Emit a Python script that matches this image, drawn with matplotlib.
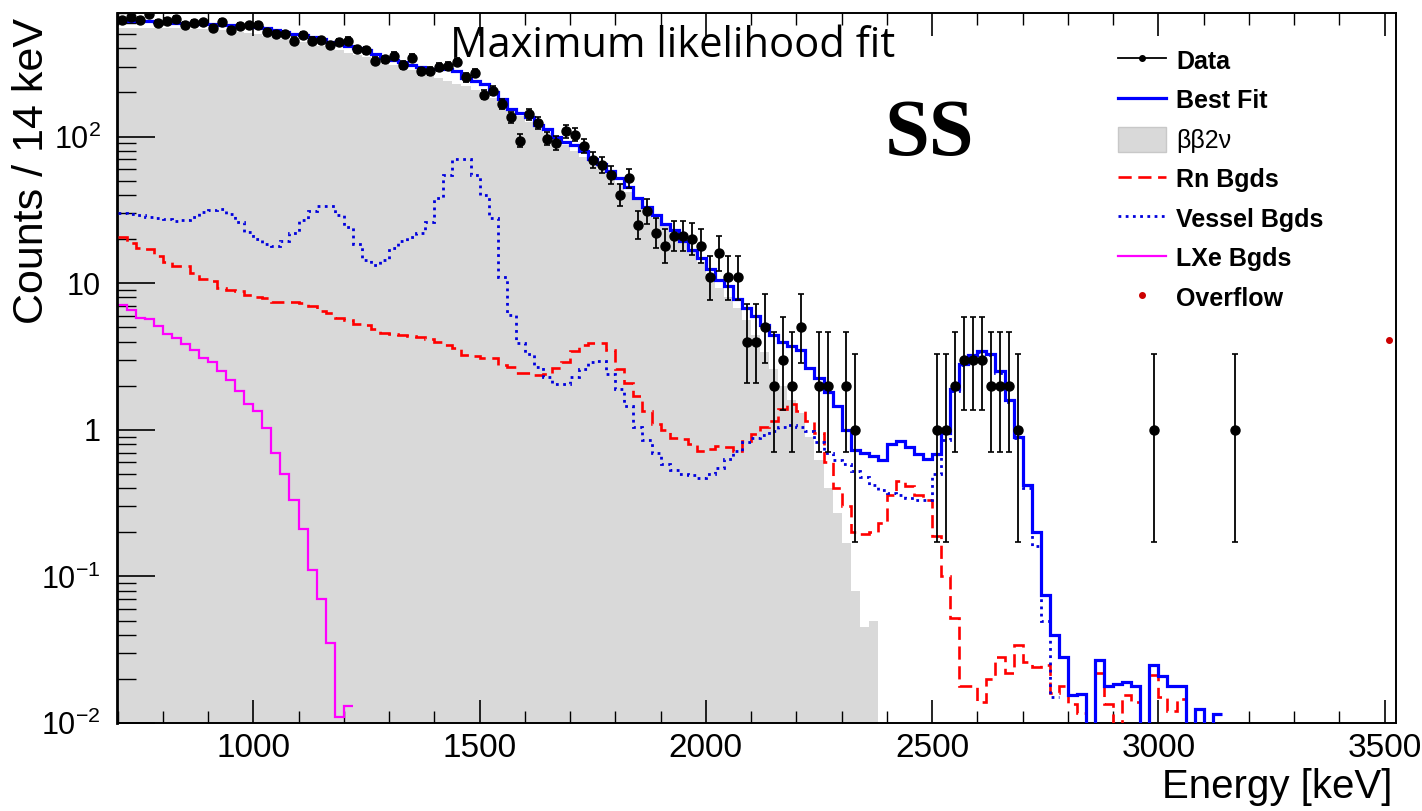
import numpy as np
import matplotlib
matplotlib.use("Agg")
import matplotlib.pyplot as plt
from matplotlib import ticker
from matplotlib.lines import Line2D
from matplotlib.patches import Patch

plt.rcParams['font.family'] = ['Liberation Sans', 'DejaVu Sans']
plt.rcParams['mathtext.fontset'] = 'custom'
plt.rcParams['mathtext.rm'] = 'Liberation Sans'
plt.rcParams['mathtext.default'] = 'regular'

# 20 keV bins starting at 700 keV
bin_edges = np.arange(700, 3540, 20)

# data counts per bin (bins 0..123)
data_counts = [
    620, 652, 629, 690, 597, 619, 636, 579, 597, 603,
    549, 609, 537, 566, 573, 579, 515, 502, 502, 452,
    495, 452, 459, 422, 440, 452, 397, 387, 330, 337,
    356, 308, 346, 278, 281, 299, 304, 325, 253, 273,
    193, 205, 166, 135, 94, 142, 123, 97, 90, 109,
    103, 86, 69, 64, 55, 40, 52, 25, 31, 22,
    18, 21, 21, 20, 18, 11, 16, 11, 11, 4,
    4, 5, 2, 3, 2, 5, 0, 2, 2, 0,
    2, 1, 0, 0, 0, 0, 0, 0, 0, 0,
    1, 1, 2, 3, 3, 3, 2, 2, 2, 1,
    0, 0, 0, 0, 0, 0, 0, 0, 0, 0,
    0, 0, 0, 0, 1, 0, 0, 0, 0, 0,
    0, 0, 0, 1]

best_fit = [
    615, 615, 612, 610, 607, 604, 600, 597, 594, 590,
    585, 580, 575, 570, 566, 560, 548, 535, 520, 502,
    490, 475, 460, 443, 430, 418, 405, 390, 365, 345,
    335, 325, 310, 298, 290, 287, 287, 280, 250, 238,
    228, 200, 180, 155, 145, 136, 120, 112, 99, 92,
    88, 80, 70, 65, 58, 52, 45, 38, 33, 29,
    25.5, 23, 19.5, 16.8, 14.8, 12.5, 10.5, 9.5, 7.8, 6.8,
    6.0, 5.2, 4.4, 4.0, 3.7, 3.5, 2.65, 2.26, 1.8, 1.45,
    1.0, 0.73, 0.70, 0.66, 0.62, 0.80, 0.84, 0.76, 0.68, 0.63,
    0.68, 0.95, 1.9, 2.8, 3.25, 3.45, 3.3, 2.5, 1.6, 0.9,
    0.42, 0.2, 0.075, 0.04, 0.028, 0.0155, 0.0157, 0, 0.027, 0.018,
    0.0185, 0.019, 0.018, 0, 0.025, 0.021, 0.018, 0.018, 0, 0.0125,
    0, 0.0116]

bb2nu = [
    548, 550, 552, 552, 552, 550, 548, 546, 544, 540,
    536, 530, 524, 518, 510, 500, 488, 475, 462, 450,
    440, 426, 414, 400, 388, 372, 360, 348, 335, 322,
    310, 298, 285, 272, 262, 250, 240, 230, 220, 208,
    196, 182, 166, 152, 138, 126, 116, 106, 96, 88,
    80, 73, 66, 60, 54, 48, 42, 37, 32, 28,
    24.5, 21.5, 19, 16.5, 14, 11.5, 9.3, 8, 6.8, 5.6,
    4.4, 3.4, 2.6, 2.0, 1.6, 1.3, 0.9, 0.62, 0.4, 0.27,
    0.17, 0.08, 0.045, 0.05]

rn_bgds = [
    20.5, 18.9, 17.4, 17.0, 15.4, 14.0, 13.2, 13.0, 11.8, 10.6,
    10.4, 9.3, 9.0, 8.9, 8.3, 8.0, 7.9, 7.5, 7.5, 7.4,
    7.35, 7.0, 6.45, 6.3, 5.75, 5.6, 5.3, 5.2, 4.9, 4.6,
    4.5, 4.4, 4.36, 4.3, 4.13, 4.0, 3.8, 3.6, 3.25, 3.2,
    3.1, 3.1, 2.75, 2.7, 2.45, 2.45, 2.38, 2.4, 2.65, 2.9,
    3.45, 3.8, 3.9, 3.9, 3.5, 2.6, 2.1, 1.7, 1.35, 1.1,
    1.0, 0.88, 0.86, 0.8, 0.72, 0.74, 0.78, 0.76, 0.72, 0.84,
    0.93, 1.05, 1.15, 1.38, 1.49, 1.35, 1.15, 0.95, 0.6, 0.4,
    0.3, 0.2, 0.195, 0.2, 0.23, 0.36, 0.45, 0.415, 0.36, 0.33,
    0.19, 0.1, 0.052, 0.018, 0.018, 0.014, 0.02, 0.028, 0.022, 0.034,
    0.026, 0.024, 0.025, 0.016, 0.018, 0.0135, 0.0117, 0, 0.022, 0.0135,
    0, 0.0155, 0.014, 0, 0.0214, 0.015, 0.012, 0.0145]

vessel_bgds = [
    30, 29.5, 29, 28.5, 28, 27.5, 26.5, 27, 28.5, 30.5,
    31.5, 32, 29.5, 26, 22.5, 20, 18.5, 18, 19.5, 22,
    27, 31, 33.5, 33.5, 29, 24, 18.5, 14.5, 13.4, 14.5,
    17.4, 19.5, 20.5, 22, 26, 38, 55, 70, 70, 55,
    40, 28, 11, 6.1, 3.9, 3.3, 2.7, 2.3, 2.05, 2.05,
    2.3, 2.6, 2.9, 2.95, 2.4, 1.9, 1.45, 1.05, 0.85, 0.7,
    0.58, 0.53, 0.5, 0.49, 0.47, 0.5, 0.55, 0.63, 0.72, 0.82,
    0.88, 0.92, 0.98, 1.05, 1.07, 1.05, 0.98, 0.82, 0.7, 0.62,
    0.58, 0.52, 0.48, 0.42, 0.39, 0.37, 0.36, 0.34, 0.33, 0.33,
    0.5, 0.85, 1.85, 2.75, 3.2, 3.4, 3.25, 2.45, 1.55, 0.88,
    0.4, 0.16, 0.05, 0.015]

lxe_bgds = [
    7.1, 6.6, 5.8, 5.7, 5.1, 4.5, 4.2, 3.85, 3.5, 3.1,
    2.9, 2.52, 2.2, 1.85, 1.5, 1.35, 1.03, 0.7, 0.5, 0.33,
    0.21, 0.11, 0.07, 0.035, 0.011, 0.013]

overflow_energy = [3510]
overflow_counts = [4.1]

x_ticks = [1000, 1500, 2000, 2500, 3000, 3500]
y_ticks = [0.01, 0.1, 1, 10, 100]
y_tick_labels = ['$10^{-2}$', '$10^{-1}$', '1', '10', '$10^{2}$']


def poisson_interval(n, cl=0.682689):
    # Garwood central interval for a Poisson count
    a = (1 - cl) / 2
    logfact = np.concatenate([[0.0], np.cumsum(np.log(np.arange(1, n + 2)))])

    def cdf(k, mu):
        j = np.arange(k + 1)
        return np.exp(j * np.log(mu) - mu - logfact[:k + 1]).sum()

    def solve(k, target):
        lo, hi = 1e-9, n + 10 * np.sqrt(n + 1) + 10
        for _ in range(80):
            mid = 0.5 * (lo + hi)
            if cdf(k, mid) > target:
                lo = mid
            else:
                hi = mid
        return 0.5 * (lo + hi)

    low = 0.0 if n == 0 else solve(n - 1, 1 - a)
    up = solve(n, a)
    return n - low, up - n


fig = plt.figure(figsize=(14.22, 8.11), dpi=100)
ax = fig.add_axes([117.5 / 1422, 1 - 723 / 811, (1396 - 117.5) / 1422, (723 - 12.7) / 811])
ax.set_yscale('log')

# gray 2nu double beta fill
ax.stairs(bb2nu, bin_edges[:len(bb2nu) + 1], fill=True, baseline=1e-4,
          color='#d9d9d9', lw=0, zorder=1)

ax.stairs(lxe_bgds, bin_edges[:len(lxe_bgds) + 1], baseline=None,
          color='#ff00ff', lw=1.6, zorder=2)
ax.stairs(rn_bgds, bin_edges[:len(rn_bgds) + 1], baseline=None,
          color='#ff0000', lw=1.9, linestyle=(0, (5, 2.5)), zorder=3)
ax.stairs(vessel_bgds, bin_edges[:len(vessel_bgds) + 1], baseline=None,
          color='#0000dd', lw=2.0, linestyle=(0, (1, 1.6)), zorder=4)
ax.stairs(best_fit, bin_edges[:len(best_fit) + 1], baseline=None,
          color='#0000ff', lw=2.3, zorder=5)

# data points
counts = np.array(data_counts)
centers = bin_edges[:len(counts)] + 10
mask = counts > 0
errs = np.array([poisson_interval(int(n)) for n in counts[mask]]).T
ax.errorbar(centers[mask], counts[mask], yerr=errs, fmt='o', color='black',
            markersize=6.5, elinewidth=1.3, capsize=2.5, capthick=1.2, zorder=6)

ax.plot(overflow_energy, overflow_counts, 'o', color='#cc0000', markersize=4, zorder=6)

ax.set_xlim(700, 3525)
ax.set_ylim(0.01, 700)

ax.xaxis.set_major_locator(ticker.FixedLocator(x_ticks))
ax.xaxis.set_minor_locator(ticker.MultipleLocator(100))
ax.yaxis.set_major_locator(ticker.FixedLocator(y_ticks))
ax.yaxis.set_major_formatter(ticker.FixedFormatter(y_tick_labels))
ax.yaxis.set_minor_locator(ticker.LogLocator(base=10, subs=np.arange(2, 10)))
ax.yaxis.set_minor_formatter(ticker.NullFormatter())

ax.tick_params(axis='x', which='major', direction='in', length=16.5, width=1.2,
               top=True, labelsize=24, pad=7)
ax.tick_params(axis='x', which='minor', direction='in', length=8.5, width=1.0, top=True)
ax.tick_params(axis='y', which='major', direction='in', length=27, width=1.2,
               right=False, labelsize=22, pad=12)
ax.tick_params(axis='y', which='minor', direction='in', length=13.7, width=1.0, right=False)

for side in ['top', 'right', 'bottom']:
    ax.spines[side].set_linewidth(1.4)
ax.spines['left'].set_linewidth(2.0)

ax.set_xlabel('Energy [keV]', fontsize=29, ha='right')
ax.xaxis.set_label_coords(0.997, -0.064)
ax.set_ylabel('Counts / 14 keV', fontsize=31, ha='right', va='center')
ax.yaxis.set_label_coords(-0.067, 0.992)

ax.text(0.600, 0.80, 'SS', transform=ax.transAxes, fontsize=58,
        family='Liberation Serif', fontweight='bold', va='baseline', ha='left')

fig.text(450 / 1422, 1 - 57 / 811, 'Maximum likelihood fit', family='Open Sans',
         fontsize=30, va='baseline', ha='left')

handles = [
    Line2D([], [], color='black', lw=1.3, marker='o', markersize=4),
    Line2D([], [], color='#0000ff', lw=2.3),
    Patch(facecolor='#d9d9d9', edgecolor='#c8c8c8', lw=1.0),
    Line2D([], [], color='#ff0000', lw=1.9, linestyle=(0, (5, 2.5))),
    Line2D([], [], color='#0000dd', lw=2.0, linestyle=(0, (1, 1.6))),
    Line2D([], [], color='#ff00ff', lw=1.6),
    Line2D([], [], color='#cc0000', ls='none', marker='o', markersize=4),
]
labels = ['Data', 'Best Fit', 'ββ2ν', 'Rn Bgds', 'Vessel Bgds', 'LXe Bgds', 'Overflow']
leg = ax.legend(handles, labels, loc='upper left', bbox_to_anchor=(0.7826, 0.951),
                frameon=False, borderaxespad=0, borderpad=0,
                prop={'size': 18, 'weight': 'bold'}, handlelength=1.92,
                handleheight=1.2, handletextpad=0.4, labelspacing=0.53)
leg.get_texts()[2].set_fontweight('normal')

fig.savefig('out.png', dpi=100)
